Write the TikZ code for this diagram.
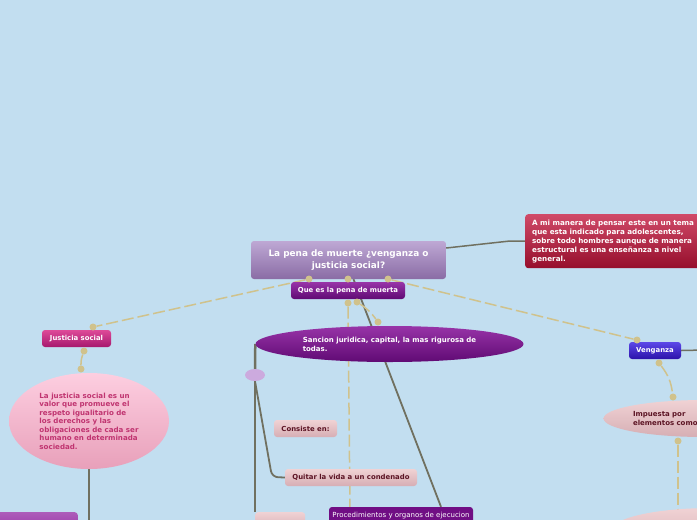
\documentclass[tikz,border=0pt]{standalone}
\usepackage{fontspec}
\setmainfont{DejaVu Sans}
\usepackage{tikz}
\usepackage{xcolor}
\usetikzlibrary{shapes.geometric, backgrounds, calc}

\definecolor{bgblue}{RGB}{194,222,240}
\definecolor{tanline}{RGB}{208,194,140}
\definecolor{linegray}{RGB}{112,112,96}
\definecolor{titletop}{RGB}{190,168,212}
\definecolor{titlebot}{RGB}{138,108,165}
\definecolor{plumtop}{RGB}{152,52,168}
\definecolor{plumbot}{RGB}{96,10,116}
\definecolor{redtop}{RGB}{208,74,104}
\definecolor{redbot}{RGB}{150,14,44}
\definecolor{magtop}{RGB}{222,74,152}
\definecolor{magbot}{RGB}{166,24,110}
\definecolor{pinktop}{RGB}{253,206,224}
\definecolor{pinkbot}{RGB}{232,160,186}
\definecolor{pinktext}{RGB}{192,52,112}
\definecolor{rosetop}{RGB}{240,210,212}
\definecolor{rosebot}{RGB}{214,174,180}
\definecolor{maroon}{RGB}{92,20,36}
\definecolor{bluetop}{RGB}{92,72,232}
\definecolor{bluebot}{RGB}{44,18,170}
\definecolor{procfill}{RGB}{112,14,132}
\definecolor{lilac}{RGB}{204,170,222}

\begin{document}
\begin{tikzpicture}[x=1pt, y=-1pt,
    box/.style={rectangle, rounded corners=3pt, inner sep=0pt, text=white,
        font=\fontsize{6.9}{8.5}\selectfont\bfseries},
    rosebox/.style={box, top color=rosetop, bottom color=rosebot, text=maroon},
    bubble/.style={ellipse, inner sep=0pt, align=left,
        font=\fontsize{7}{8.8}\selectfont\bfseries},
    dot/.style={circle, fill=tanline, inner sep=0pt, minimum size=7pt},
    dashline/.style={draw=tanline, line width=1.5pt, dash pattern=on 12pt off 4pt},
    conn/.style={draw=linegray, line width=1.8pt}]

    \useasboundingbox (0,0) rectangle (697,520);
    \clip (0,0) rectangle (697,520);

    % Title and first level
    \node[box, minimum width=195pt, minimum height=38pt, top color=titletop, bottom color=titlebot,
        align=center, font=\fontsize{8.9}{11.5}\selectfont\bfseries]
        (title) at (348.5,260) {La pena de muerte ¿venganza o\\justicia social?};
    \node[box, minimum width=114pt, minimum height=17pt, top color=plumtop, bottom color=plumbot]
        (quees) at (348,290.5) {Que es la pena de muerta};
    \node[box, anchor=north west, minimum width=200pt, minimum height=54pt, text width=186pt,
        inner xsep=7pt, align=left, top color=redtop, bottom color=redbot,
        font=\fontsize{7.2}{9}\selectfont\bfseries]
        (opinion) at (525,214) {A mi manera de pensar este en un tema\\que esta indicado para adolescentes,\\sobre todo hombres aunque de manera\\estructural es una enseñanza a nivel\\general.};

    % Justicia social
    \node[box, minimum width=69pt, minimum height=17pt, top color=magtop, bottom color=magbot]
        (justicia) at (76.5,338.5) {Justicia social};
    \node[bubble, minimum width=160pt, minimum height=96pt,
        top color=pinktop, bottom color=pinkbot, text=pinktext,
        font=\fontsize{7.1}{8.5}\selectfont\bfseries]
        (justdef) at (89,421) {La justicia social es un\\valor que promueve el\\respeto igualitario de\\los derechos y las\\obligaciones de cada ser\\humano en determinada\\sociedad.};
    \node[box, anchor=north east, minimum width=100pt, minimum height=20pt,
        top color=plumtop!80!white, bottom color=plumtop]
        (leftbox) at (78,512) {};

    % Sancion
    \node[bubble, minimum width=268pt, minimum height=36pt,
        top color=plumtop, bottom color=plumbot, text=white]
        (sancion) at (389.5,344) {Sancion juridica, capital, la mas rigurosa de\\todas.};
    \node[ellipse, minimum width=20pt, minimum height=12pt, inner sep=0pt, fill=lilac]
        (knot) at (255,375) {};
    \node[rosebox, minimum width=63pt, minimum height=17pt] (consiste) at (305.5,428.5) {Consiste en:};
    \node[rosebox, minimum width=132pt, minimum height=17pt] (quitar) at (351,477.5) {Quitar la vida a un condenado};
    \node[rosebox, anchor=north west, minimum width=50pt, minimum height=18pt] (midbox) at (255,512) {};
    \node[box, minimum width=144pt, minimum height=18pt, fill=procfill,
        font=\fontsize{7}{8}\selectfont]
        (proced) at (401,516) {Procedimientos y organos de ejecucion};

    % Venganza
    \node[box, minimum width=52pt, minimum height=17pt, top color=bluetop, bottom color=bluebot]
        (venganza) at (655,350.5) {Venganza};
    \node[bubble, minimum width=200pt, minimum height=37pt, text width=142pt,
        top color=rosetop, bottom color=rosebot, text=maroon]
        (impuesta) at (704,418.5) {Impuesta por\\elementos como};
    \node[ellipse, minimum width=200pt, minimum height=44pt, top color=rosetop, bottom color=rosebot]
        (lowell) at (712,530) {};

    % Dots
    \node[dot] (t1) at (309,279) {};
    \node[dot] (t2) at (348,279) {};
    \node[dot] (t3) at (388,279) {};
    \node[dot] (q1) at (348,303) {};
    \node[dot] (q2) at (357,302) {};
    \node[dot] (s1) at (378,322) {};
    \node[dot] (j1) at (93,327) {};
    \node[dot] (j2) at (84,351) {};
    \node[dot] (j3) at (81,369) {};
    \node[dot] (v1) at (637,340) {};
    \node[dot] (v2) at (659,363) {};
    \node[dot] (v3) at (673,397) {};
    \node[dot] (v4) at (678,441) {};
    \coordinate (v5) at (678,509);
    \coordinate (qend) at (350,512);
    \coordinate (bend) at (510,241);
    \coordinate (qbend) at (272,477);
    \coordinate (jend) at (89,525);
    \coordinate (vend) at (705,350);

    % Connectors
    \begin{scope}[on background layer]
        \fill[bgblue] (0,0) rectangle (697,520);
        \draw[conn, line width=1.5pt] ([yshift=12pt]title.east) -- (bend) -- (opinion.west);
        \draw[conn] ([xshift=5pt]title.south) -- ([xshift=40pt]proced.north);
        \draw[conn, line width=2.5pt] (sancion.west) -- (knot.north);
        \draw[conn, line width=2.2pt] (knot.south) -- (midbox.north west);
        \draw[conn, rounded corners=6pt] (knot.south) -- (qbend) -- (quitar.west);
        \draw[conn, line width=1.4pt] (justdef.south) -- (jend);
        \draw[conn, line width=1.5pt] (venganza.east) -- (vend);
        \draw[dashline] (t1) -- (j1);
        \draw[dashline] (t3) -- (v1);
        \draw[dashline] (q2) to[bend left=10] (s1);
        \draw[dashline] (q1) -- (qend);
        \draw[dashline] (j2) to[bend right=10] (j3);
        \draw[dashline] (v2) to[bend left=15] (v3);
        \draw[dashline] (v4) -- (v5);
    \end{scope}
\end{tikzpicture}
\end{document}
